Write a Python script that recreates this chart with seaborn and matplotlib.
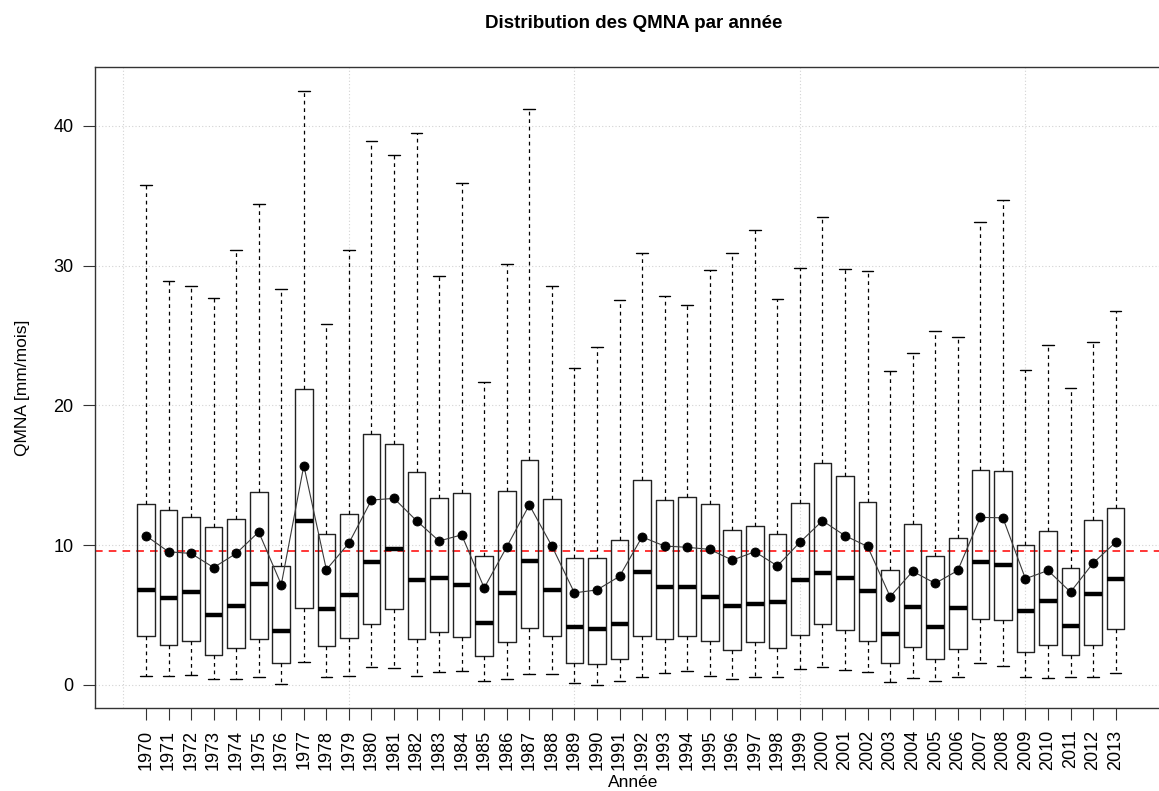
import numpy as np
import pandas as pd
import matplotlib
matplotlib.use("Agg")
import matplotlib.pyplot as plt
import seaborn as sns

# QMNA statistics per year
years = list(range(1970, 2014))
whisk_low = [0.65, 0.65, 0.71, 0.42, 0.42, 0.59, 0.06, 1.66, 0.59, 0.65,
             1.25, 1.19, 0.65, 0.95, 1.01, 0.28, 0.39, 0.77, 0.77, 0.12,
             0.03, 0.27, 0.56, 0.86, 0.98, 0.65, 0.45, 0.56, 0.56, 1.16,
             1.31, 1.04, 0.92, 0.21, 0.53, 0.30, 0.59, 1.54, 1.39, 0.59,
             0.53, 0.59, 0.59, 0.86]
q1 = [3.53, 2.85, 3.12, 2.11, 2.64, 3.29, 1.54, 5.49, 2.79, 3.35,
      4.33, 5.40, 3.26, 3.80, 3.41, 2.05, 3.09, 4.04, 3.53, 1.60,
      1.51, 1.87, 3.47, 3.32, 3.53, 3.12, 2.52, 3.06, 2.61, 3.59,
      4.36, 3.92, 3.12, 1.60, 2.73, 1.84, 2.55, 4.72, 4.66, 2.37,
      2.85, 2.11, 2.85, 4.01]
median = [6.82, 6.23, 6.68, 5.01, 5.67, 7.21, 3.86, 11.75, 5.46, 6.47,
          8.81, 9.70, 7.54, 7.66, 7.12, 4.42, 6.59, 8.90, 6.80, 4.12,
          3.98, 4.39, 8.07, 7.03, 7.00, 6.32, 5.67, 5.79, 5.91, 7.51,
          7.98, 7.66, 6.71, 3.68, 5.61, 4.15, 5.52, 8.81, 8.61, 5.28,
          6.02, 4.21, 6.50, 7.60]
q3 = [12.97, 12.55, 12.02, 11.28, 11.87, 13.83, 8.52, 21.19, 10.80, 12.20,
      17.95, 17.24, 15.25, 13.41, 13.77, 9.26, 13.89, 16.08, 13.29, 9.11,
      9.05, 10.39, 14.66, 13.20, 13.47, 12.94, 11.07, 11.39, 10.83, 13.03,
      15.85, 14.96, 13.09, 8.25, 11.54, 9.26, 10.53, 15.40, 15.28, 10.00,
      11.01, 8.40, 11.81, 12.67]
whisk_high = [35.80, 28.93, 28.55, 27.66, 31.10, 34.45, 28.31, 42.49, 25.82, 31.10,
              38.93, 37.92, 39.53, 29.23, 35.93, 21.69, 30.15, 41.22, 28.52, 22.67,
              24.15, 27.57, 30.89, 27.80, 27.18, 29.67, 30.89, 32.55, 27.60, 29.85,
              33.50, 29.73, 29.61, 22.46, 23.74, 25.34, 24.93, 33.12, 34.72, 22.55,
              24.33, 21.25, 24.54, 26.74]
means = [10.68, 9.53, 9.41, 8.40, 9.41, 10.95, 7.18, 15.70, 8.25, 10.15,
         13.23, 13.35, 11.75, 10.30, 10.74, 6.94, 9.88, 12.88, 9.94, 6.59,
         6.80, 7.77, 10.59, 9.94, 9.85, 9.70, 8.93, 9.53, 8.52, 10.21,
         11.75, 10.68, 9.91, 6.32, 8.13, 7.27, 8.19, 11.99, 11.96, 7.60,
         8.19, 6.65, 8.72, 10.21]
overall_mean = 9.61

labels = [str(y) for y in years]

# five summary points per year -> box drawn exactly on those quartiles
box_df = pd.DataFrame({
    "year": labels * 5,
    "value": whisk_low + q1 + median + q3 + whisk_high,
})
mean_df = pd.DataFrame({"year": labels, "value": means})

sns.set_style("white")
plt.rcParams["font.family"] = ["Liberation Sans", "DejaVu Sans"]
plt.rcParams["text.color"] = "black"
plt.rcParams["axes.labelcolor"] = "black"
plt.rcParams["xtick.color"] = "black"
plt.rcParams["ytick.color"] = "black"

fig = plt.figure(figsize=(11.59, 7.91), dpi=100)
ax = fig.add_axes([95 / 1159, 1 - 708 / 791, 1077 / 1159, 641 / 791])

ax.axhline(overall_mean, color="#ff0000", lw=1.1, ls=(0, (5, 4)), zorder=1)

sns.boxplot(data=box_df, x="year", y="value", order=labels, whis=(0, 100),
            fill=False, width=0.78, color="black", linecolor="black",
            linewidth=1.0, showfliers=False, capwidths=0.52, ax=ax,
            boxprops={"color": "#222222"},
            medianprops={"linewidth": 3.2, "color": "black", "solid_capstyle": "butt"},
            whiskerprops={"linestyle": (0, (3, 3)), "linewidth": 0.9, "color": "black"},
            capprops={"linewidth": 1.0, "color": "black"})

sns.pointplot(data=mean_df, x="year", y="value", order=labels, color="black",
              markers="o", markersize=6.5, linewidth=0.8, errorbar=None, ax=ax,
              zorder=5)
mean_line = ax.lines[-1]
mean_line.set_color("#3a3a3a")
mean_line.set_markerfacecolor("black")
mean_line.set_markeredgecolor("black")

for xg in range(-1, len(years), 10):
    ax.axvline(xg, color="#d3d3d3", lw=0.8, ls=(0, (1, 2)), zorder=0)
ax.set_yticks([0, 10, 20, 30, 40])
ax.grid(axis="y", color="#d3d3d3", lw=0.8, ls=(0, (1, 2)))
ax.set_axisbelow(True)

ax.set_xlim(-2.26, 45.5)
ax.set_ylim(-1.65, 44.22)

ax.tick_params(axis="x", rotation=90, labelsize=13, length=8.5, width=0.8,
               color="#333333", labelcolor="black", bottom=True, pad=7)
ax.tick_params(axis="y", labelsize=13, length=8.5, width=0.8, color="#333333",
               labelcolor="black", left=True, pad=7)
for s in ax.spines.values():
    s.set_color("#333333")
    s.set_linewidth(1.0)

ax.set_xlabel("Année", fontsize=12.5, labelpad=4, color="black")
ax.set_ylabel("QMNA [mm/mois]", fontsize=12.5, labelpad=17, color="black")
ax.set_title("Distribution des QMNA par année", fontsize=13.5,
             fontweight="bold", pad=28, color="black")

fig.savefig("out.png", dpi=100)
